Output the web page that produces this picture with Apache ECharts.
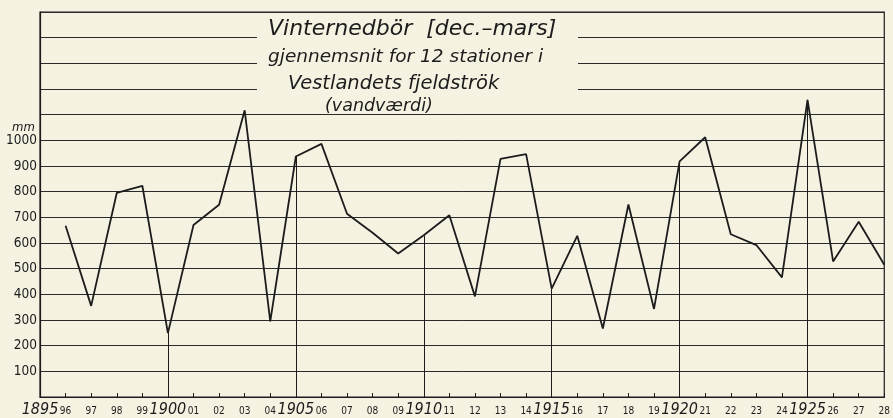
<!DOCTYPE html>
<html>
<head>
<meta charset="utf-8">
<script src="https://cdn.jsdelivr.net/npm/echarts@6/dist/echarts.min.js"></script>
<style>
  html, body { margin: 0; padding: 0; background: #f5f2e2; }
  #main { width: 893px; height: 418px; }
</style>
</head>
<body>
<div id="main"></div>
<script>
// vinternedbør, gjennemsnit 12 stationer (mm)
var years = [1896, 1897, 1898, 1899, 1900, 1901, 1902, 1903, 1904, 1905,
             1906, 1907, 1908, 1909, 1910, 1911, 1912, 1913, 1914, 1915,
             1916, 1917, 1918, 1919, 1920, 1921, 1922, 1923, 1924, 1925,
             1926, 1927, 1928];
var values = [667, 355, 795, 823, 249, 670, 749, 1117, 295, 937,
              986, 714, 640, 559, 630, 708, 392, 928, 946, 422,
              628, 267, 750, 343, 918, 1012, 634, 592, 466, 1158,
              528, 683, 515];
var yLabels = [100, 200, 300, 400, 500, 600, 700, 800, 900, 1000];
var titleLines = ['Vinternedbör  [dec.–mars]', 'gjennemsnit for 12 stationer i',
                  'Vestlandets fjeldströk', '(vandværdi)'];

var bg = '#f5f2e2';
var ink = '#1c1c1c';
var hand = '"Liberation Sans Narrow", "DejaVu Sans Condensed", sans-serif';
var wide = '"DejaVu Sans", "Liberation Sans", sans-serif';
var cond = '"DejaVu Sans Condensed", "Liberation Sans Narrow", sans-serif';

var points = [];
var drops = [];
for (var i = 0; i < years.length; i++) {
  points.push([years[i], values[i]]);
  if (years[i] % 5 === 0) {
    drops.push([{ coord: [years[i], 0] }, { coord: [years[i], values[i]] }]);
  }
}

var myChart = echarts.init(document.getElementById('main'));
myChart.setOption({
  backgroundColor: bg,
  animation: false,
  grid: {
    left: 40, right: 6, top: 12, bottom: 18,
    show: true, borderColor: ink, borderWidth: 1.2
  },
  xAxis: {
    type: 'value',
    min: 1895, max: 1928, interval: 1,
    axisLine: { lineStyle: { color: ink, width: 1.2 } },
    axisTick: { inside: true, length: 4, lineStyle: { color: ink } },
    splitLine: { show: false },
    axisLabel: {
      margin: 5,
      formatter: function (v) {
        if (v % 5 === 0) return '{big|' + v + '}';
        var s = String(v % 100);
        if (s.length < 2) s = '0' + s;
        return '{sm|' + s + '}';
      },
      rich: {
        big: { fontFamily: hand, fontStyle: 'italic', fontSize: 16, color: ink },
        sm: { fontFamily: cond, fontSize: 10, color: ink, padding: [4, 0, 0, 0] }
      }
    }
  },
  yAxis: {
    type: 'value',
    min: 0, max: 1500, interval: 100,
    axisLine: { show: true, lineStyle: { color: ink, width: 1.2 } },
    axisTick: { show: false },
    splitLine: { lineStyle: { color: '#2a2a2a', width: 1 } },
    axisLabel: {
      margin: 3,
      fontFamily: cond, fontSize: 13.5, color: ink,
      formatter: function (v) {
        return yLabels.indexOf(v) >= 0 ? String(v) : '';
      }
    }
  },
  graphic: [
    { type: 'rect', z: 100, shape: { x: 257, y: 16, width: 321, height: 96 },
      style: { fill: bg } },
    { type: 'text', z: 101, left: 268, top: 18,
      style: { text: titleLines[0], font: 'oblique 22px ' + wide, fill: ink } },
    { type: 'text', z: 101, left: 268, top: 48,
      style: { text: titleLines[1], font: 'oblique 18.5px ' + wide, fill: ink } },
    { type: 'text', z: 101, left: 288, top: 74,
      style: { text: titleLines[2], font: 'oblique 19.5px ' + wide, fill: ink } },
    { type: 'text', z: 101, left: 325, top: 97,
      style: { text: titleLines[3], font: 'oblique 17.5px ' + wide, fill: ink } },
    { type: 'text', z: 101, left: 12, top: 121,
      style: { text: 'mm', font: 'italic 13px ' + hand, fill: ink } }
  ],
  series: [{
    name: 'nedbør',
    type: 'line',
    data: points,
    symbol: 'none',
    lineStyle: { color: ink, width: 1.8 },
    markLine: {
      silent: true,
      symbol: 'none',
      label: { show: false },
      lineStyle: { color: ink, width: 1, type: 'solid' },
      data: drops
    }
  }]
});
</script>
</body>
</html>
